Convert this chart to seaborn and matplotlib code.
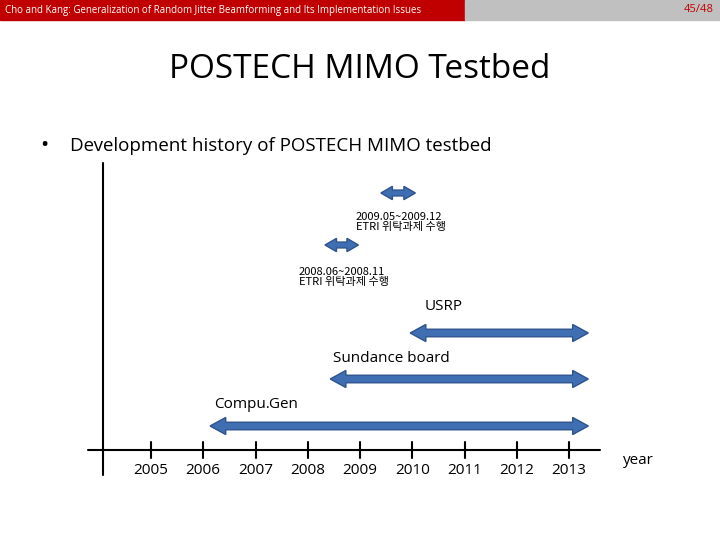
import matplotlib
matplotlib.use("Agg")
import matplotlib.pyplot as plt
import seaborn as sns
from matplotlib.patches import Polygon, Rectangle

sns.set_theme(style="white")
plt.rcParams["text.color"] = "black"

years = [2005, 2006, 2007, 2008, 2009, 2010, 2011, 2012, 2013]
bar_names = ["Compu.Gen", "Sundance board", "USRP", "ETRI 2008", "ETRI 2009"]
bar_start = [2006.13, 2008.43, 2009.96, 2008.33, 2009.40]
bar_end = [2013.37, 2013.37, 2013.37, 2008.97, 2010.06]
bar_y = [426, 379, 333, 245, 193]
bar_width = [9, 9, 9, 7, 7]

x0, px = 2005 - 151 / 52.25, 52.25
def X(p):
    return x0 + p / px

fig = plt.figure(figsize=(7.2, 5.4), dpi=100)
ax = fig.add_axes([0, 0, 1, 1])
ax.set_xlim(X(0), X(720))
ax.set_ylim(540, 0)
ax.axis("off")

font = "Open Sans"
kfont = ["Noto Sans CJK KR", "Noto Sans CJK JP", "Noto Sans CJK SC", "DejaVu Sans"]
blue = "#3F6FB2"

# header
ax.add_patch(Rectangle((X(0), 0), X(465) - X(0), 20, color="#C00000"))
ax.add_patch(Rectangle((X(465), 0), X(720) - X(465), 20, color="#C0C0C0"))
ax.text(X(5), 10, "Cho and Kang: Generalization of Random Jitter Beamforming and Its Implementation Issues",
        color="white", fontsize=7, va="center", family=font)
ax.text(X(714), 10, "45/48", color="#C00000", fontsize=8, va="center", ha="right", family=font)

ax.text(X(360), 69, "POSTECH MIMO Testbed", fontsize=24, ha="center", va="center", family=font)
ax.text(X(40), 146, "•", fontsize=16, va="center", family=font)
ax.text(X(70), 146, "Development history of POSTECH MIMO testbed", fontsize=13.5, va="center", family=font)

# axes lines
ax.plot([X(103), X(103)], [475, 163], color="black", lw=1.5)
ax.plot([X(88), X(600)], [450, 450], color="black", lw=1.5)
for y in years:
    ax.plot([y, y], [442, 458], color="black", lw=1.5)
    ax.text(y, 471, str(y), ha="center", va="center", fontsize=11, family=font)
ax.text(X(638), 461, "year", ha="center", va="center", fontsize=11, family=font)

def darrow(a, b, y, w):
    hl = 0.3 if b - a > 1 else 0.22
    sh = w * 0.42
    hh = w * 0.95
    pts = [(a, y), (a + hl, y - hh), (a + hl, y - sh), (b - hl, y - sh), (b - hl, y - hh),
           (b, y), (b - hl, y + hh), (b - hl, y + sh), (a + hl, y + sh), (a + hl, y + hh)]
    ax.add_patch(Polygon(pts, closed=True, fc=blue, ec="#2F528F", lw=1.0))

for a, b, y, w in zip(bar_start, bar_end, bar_y, bar_width):
    darrow(a, b, y, w)

ax.text(X(214), 404, "Compu.Gen", fontsize=11, va="center", family=font)
ax.text(X(333), 358, "Sundance board", fontsize=11, va="center", family=font)
ax.text(X(425), 307, "USRP", fontsize=11, va="center", family=font)
ax.text(X(299), 277, "2008.06~2008.11\nETRI 위탁과제 수행", fontsize=8, va="center",
        family=kfont, linespacing=1.05)
ax.text(X(356), 222, "2009.05~2009.12\nETRI 위탁과제 수행", fontsize=8, va="center",
        family=kfont, linespacing=1.05)

fig.savefig("out.png", dpi=100)
